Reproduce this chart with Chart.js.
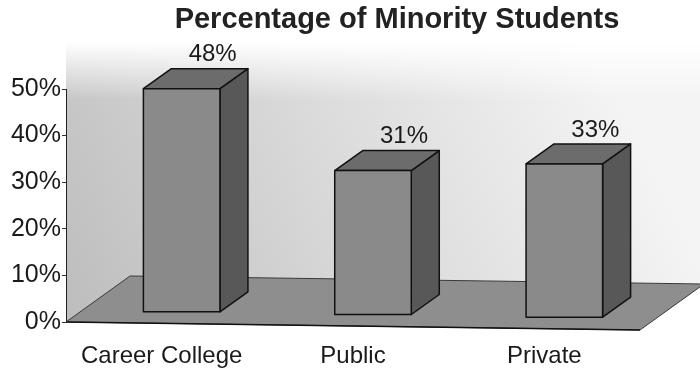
<!DOCTYPE html>
<html>
<head>
<meta charset="utf-8">
<script src="https://cdn.jsdelivr.net/npm/chart.js@4.4.1/dist/chart.umd.min.js"></script>
<style>
    html, body { margin: 0; padding: 0; background: #fff; }
    #wrap { width: 700px; height: 371px; }
</style>
</head>
<body>
<div id="wrap"><canvas id="chart" width="700" height="371"></canvas></div>
<script>
const TITLE = 'Percentage of Minority Students';
const CATEGORIES = ['Career College', 'Public', 'Private'];
const VALUES = [48, 31, 33];
const Y_MIN = 0;
const Y_MAX = 50;
const Y_STEP = 10;

// 3D look
const DEPTH_X = 28, DEPTH_Y = -20;     // bar depth
const SHIFT_X = 20, SHIFT_Y = -11;     // bar front face sits a little inside the floor
const FLOOR_DX = 64, FLOOR_DY = -46;   // floor depth
const FLOOR_TILT = 8 / 574;            // front edge drops slightly to the right

const FONT = '"Liberation Sans", Arial, sans-serif';
Chart.defaults.font.family = FONT;

function floorY(area, y0, x) {
    return y0 + (x - area.left) * FLOOR_TILT;
}

const scenePlugin = {
    id: 'scene',
    beforeDraw(chart) {
        const ctx = chart.ctx;
        const area = chart.chartArea;
        const y0 = chart.scales.y.getPixelForValue(0);
        const right = area.right;
        const backRightY = floorY(area, y0, right) + FLOOR_DY;

        ctx.save();
        // back wall
        ctx.beginPath();
        ctx.moveTo(area.left, 40);
        ctx.lineTo(chart.width, 40);
        ctx.lineTo(chart.width, backRightY);
        ctx.lineTo(area.left, y0);
        ctx.closePath();
        const g = ctx.createLinearGradient(area.left, y0, 600, 60);
        g.addColorStop(0, '#bdbdbd');
        g.addColorStop(0.55, '#dcdcdc');
        g.addColorStop(1, '#f4f4f4');
        ctx.fillStyle = g;
        ctx.fill();
        const fade = ctx.createLinearGradient(0, 42, 0, 100);
        fade.addColorStop(0, 'rgba(255,255,255,1)');
        fade.addColorStop(1, 'rgba(255,255,255,0)');
        ctx.fillStyle = fade;
        ctx.fill();

        // floor
        const fl = [area.left, y0];
        const fr = [right, floorY(area, y0, right)];
        ctx.beginPath();
        ctx.moveTo(fl[0], fl[1]);
        ctx.lineTo(fr[0], fr[1]);
        ctx.lineTo(fr[0] + FLOOR_DX, fr[1] + FLOOR_DY);
        ctx.lineTo(fl[0] + FLOOR_DX, fl[1] + FLOOR_DY);
        ctx.closePath();
        ctx.fillStyle = '#8e8e8e';
        ctx.fill();
        ctx.strokeStyle = '#3a3a3a';
        ctx.lineWidth = 1;
        ctx.stroke();
        ctx.beginPath();
        ctx.moveTo(fl[0], fl[1]);
        ctx.lineTo(fr[0], fr[1]);
        ctx.strokeStyle = '#111';
        ctx.lineWidth = 1.5;
        ctx.stroke();
        ctx.restore();
    },
    afterDatasetsDraw(chart) {
        const ctx = chart.ctx;
        const area = chart.chartArea;
        const y0 = chart.scales.y.getPixelForValue(0);
        const meta = chart.getDatasetMeta(0);
        ctx.save();
        ctx.lineJoin = 'round';
        ctx.strokeStyle = '#111';
        ctx.lineWidth = 1.5;
        meta.data.forEach((el, i) => {
            const tilt = floorY(area, y0, el.x) - y0;
            const L = el.x - el.width / 2 + SHIFT_X;
            const R = el.x + el.width / 2 + SHIFT_X;
            const top = el.y + SHIFT_Y + tilt;
            const bottom = el.base + SHIFT_Y + tilt;

            // side
            ctx.beginPath();
            ctx.moveTo(R, top);
            ctx.lineTo(R + DEPTH_X, top + DEPTH_Y);
            ctx.lineTo(R + DEPTH_X, bottom + DEPTH_Y);
            ctx.lineTo(R, bottom);
            ctx.closePath();
            ctx.fillStyle = '#585858';
            ctx.fill();
            ctx.stroke();

            // top
            ctx.beginPath();
            ctx.moveTo(L, top);
            ctx.lineTo(R, top);
            ctx.lineTo(R + DEPTH_X, top + DEPTH_Y);
            ctx.lineTo(L + DEPTH_X, top + DEPTH_Y);
            ctx.closePath();
            ctx.fillStyle = '#6c6c6c';
            ctx.fill();
            ctx.stroke();

            // front
            ctx.beginPath();
            ctx.rect(L, top, R - L, bottom - top);
            ctx.fillStyle = '#8a8a8a';
            ctx.fill();
            ctx.stroke();

            // value label
            ctx.fillStyle = '#1a1a1a';
            ctx.font = '24px ' + FONT;
            ctx.textAlign = 'center';
            ctx.textBaseline = 'middle';
            ctx.fillText(VALUES[i] + '%', (L + R) / 2 + DEPTH_X + 3, top + DEPTH_Y - 14);
        });
        ctx.restore();
    },
    afterDraw(chart) {
        const ctx = chart.ctx;
        ctx.save();
        ctx.fillStyle = '#222';
        ctx.font = 'bold 29px ' + FONT;
        ctx.textAlign = 'center';
        ctx.textBaseline = 'alphabetic';
        ctx.fillText(TITLE, 397, 28);
        ctx.restore();
    }
};

new Chart(document.getElementById('chart'), {
    type: 'bar',
    data: {
        labels: CATEGORIES,
        datasets: [{
            data: VALUES,
            backgroundColor: 'rgba(0,0,0,0)',
            borderWidth: 0,
            categoryPercentage: 1,
            barPercentage: 0.4
        }]
    },
    options: {
        responsive: false,
        animation: false,
        layout: { padding: { top: 89, right: 60, bottom: 0, left: 0 } },
        plugins: {
            legend: { display: false },
            tooltip: { enabled: false },
            title: { display: false }
        },
        scales: {
            x: {
                grid: { display: false, drawTicks: false },
                border: { display: false },
                ticks: { font: { size: 24 }, color: '#1a1a1a', padding: 20, maxRotation: 0 },
                afterFit: s => { s.height = 49; }
            },
            y: {
                min: Y_MIN,
                max: Y_MAX,
                ticks: {
                    stepSize: Y_STEP,
                    font: { size: 25 },
                    color: '#1a1a1a',
                    padding: 1,
                    callback: v => v + '%'
                },
                grid: { drawOnChartArea: false, drawTicks: true, tickLength: 4, color: '#333' },
                border: { display: true, color: '#222', width: 1 },
                afterFit: s => { s.width = 66; }
            }
        }
    },
    plugins: [scenePlugin]
});
</script>
</body>
</html>
